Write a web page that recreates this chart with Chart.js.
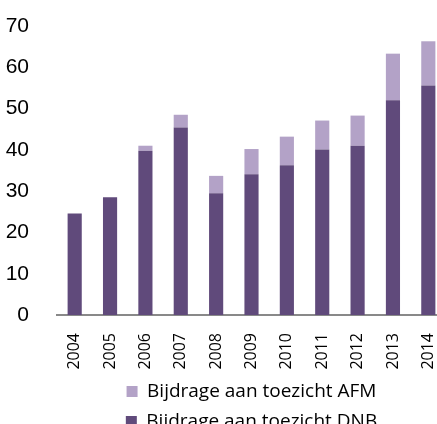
<!DOCTYPE html>
<html lang="nl">
<head>
<meta charset="UTF-8">
<title>Bijdrage aan toezicht</title>
<script src="https://cdn.jsdelivr.net/npm/chart.js"></script>
<style>
    html, body { margin: 0; padding: 0; overflow: hidden; background: #fff; }
    .grafico { width: 450px; height: 441px; }
</style>
</head>
<body>
<div class="grafico">
    <canvas id="myCanvas"></canvas>
</div>
<script>
    // jaren op de x-as
    const jaren = ["2004", "2005", "2006", "2007", "2008", "2009", "2010", "2011", "2012", "2013", "2014"];
    // bedragen
    const dnb = [24.6, 28.5, 39.8, 45.4, 29.5, 34.1, 36.3, 40.1, 41.0, 52.0, 55.6];
    const afm = [0, 0, 1.2, 3.1, 4.2, 6.1, 6.9, 7.0, 7.3, 11.3, 10.7];
    const yTicks = [0, 10, 20, 30, 40, 50, 60, 70];

    const fontAs = "'Liberation Sans', Arial, sans-serif";
    const fontTekst = "'Open Sans', sans-serif";

    const dados = {
        labels: jaren,
        datasets: [
            {
                label: "Bijdrage aan toezicht DNB",
                data: dnb,
                backgroundColor: "#604a7b",
                barPercentage: 0.5,
                categoryPercentage: 0.8
            },
            {
                label: "Bijdrage aan toezicht AFM",
                data: afm,
                backgroundColor: "#b3a2c7",
                barPercentage: 0.5,
                categoryPercentage: 0.8
            }
        ]
    };

    const config = {
        type: "bar",
        data: dados,
        options: {
            responsive: true,
            maintainAspectRatio: false,
            animation: false,
            layout: { padding: { top: 26, right: 4, left: 0, bottom: 0 } },
            scales: {
                x: {
                    stacked: true,
                    grid: { display: false },
                    border: { display: true, color: "#898989", width: 2 },
                    ticks: {
                        color: "#000",
                        minRotation: 90,
                        maxRotation: 90,
                        padding: 10,
                        autoSkip: false,
                        font: { family: fontTekst, size: 16 }
                    },
                    afterFit: function (scale) {
                        scale.height = 56;
                        scale.paddingLeft = 0;
                        scale.paddingRight = 0;
                    }
                },
                y: {
                    stacked: true,
                    min: 0,
                    max: 70,
                    grid: { display: false },
                    border: { display: false },
                    afterBuildTicks: function (scale) {
                        scale.ticks = yTicks.map(function (v) { return { value: v }; });
                    },
                    ticks: {
                        color: "#000",
                        padding: 20,
                        font: { family: fontAs, size: 21 }
                    },
                    afterFit: function (scale) {
                        scale.width = 57;
                        scale.paddingTop = 0;
                        scale.paddingBottom = 0;
                    }
                }
            },
            plugins: {
                tooltip: { enabled: false },
                legend: {
                    position: "bottom",
                    fullSize: false,
                    reverse: true,
                    labels: {
                        color: "#000",
                        boxWidth: 11,
                        boxHeight: 11,
                        padding: 11,
                        font: { family: fontTekst, size: 19 }
                    }
                }
            }
        }
    };

    const myChart = new Chart(document.getElementById("myCanvas"), config);
</script>
</body>
</html>
